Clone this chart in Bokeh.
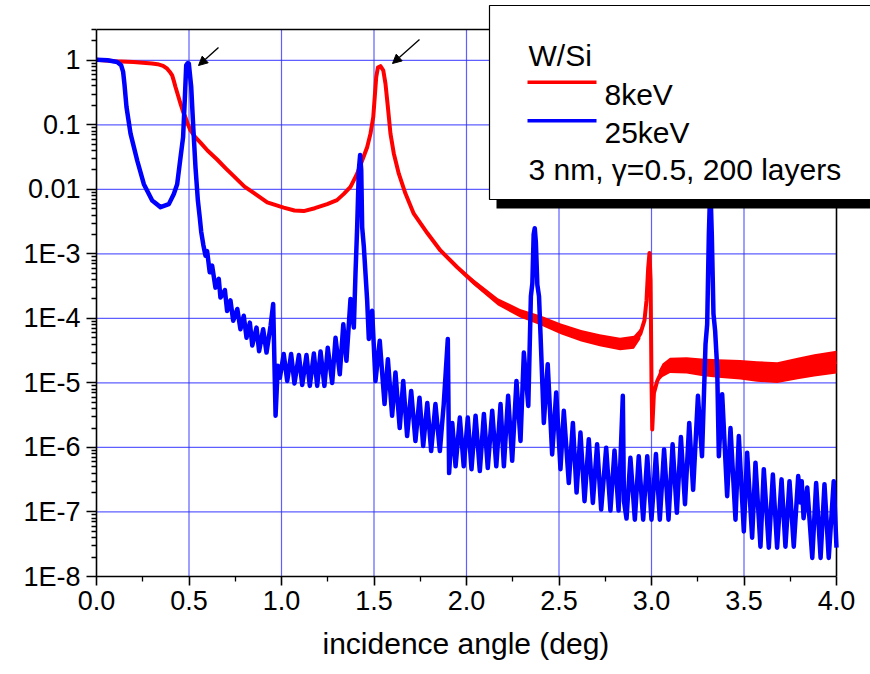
import numpy as np
from bokeh.plotting import figure
from bokeh.models import Range1d, FixedTicker, Arrow, NormalHead, Title
from bokeh.core.properties import value
from bokeh.embed import file_html
from bokeh.resources import INLINE

# ---------------- data ----------------
red_x = [0.0, 0.1, 0.2, 0.3, 0.33, 0.36, 0.382, 0.40, 0.409, 0.418, 0.427, 0.44, 0.454, 0.468,
         0.481, 0.495, 0.508, 0.535, 0.562, 0.6, 0.652, 0.7, 0.742, 0.8, 0.85, 0.923, 1.012,
         1.07, 1.12, 1.18, 1.247, 1.30, 1.337, 1.373, 1.409, 1.436, 1.463, 1.481, 1.496, 1.504,
         1.512, 1.521, 1.535, 1.55, 1.562, 1.575, 1.589, 1.607, 1.634, 1.670, 1.715, 1.788,
         1.859, 1.95, 2.04, 2.17, 2.29, 2.40, 2.51, 2.62, 2.72, 2.83, 2.905, 2.94, 2.962, 2.973,
         2.982, 2.989, 2.995, 3.0, 3.004, 3.013, 3.031, 3.058, 3.10, 3.19, 3.27, 3.36, 3.48,
         3.57, 3.68, 3.79, 3.88, 4.0]
red_y = [1.02, 0.97, 0.94, 0.89, 0.87, 0.82, 0.74, 0.64, 0.585, 0.48, 0.385, 0.29, 0.213, 0.16,
         0.13, 0.10, 0.082, 0.064, 0.053, 0.040, 0.029, 0.021, 0.016, 0.011, 0.0088, 0.0063, 0.0052,
         0.0047, 0.0046, 0.0051, 0.0059, 0.0068, 0.0085, 0.0109, 0.0175, 0.028, 0.045, 0.073, 0.132,
         0.27, 0.55, 0.77, 0.81, 0.70, 0.435, 0.189, 0.073, 0.036, 0.0175, 0.0086, 0.0042, 0.0021,
         0.00113, 6.2e-4, 3.6e-4, 1.8e-4, 1.2e-4, 9.3e-5, 6.9e-5, 5.4e-5, 4.6e-5, 4.0e-5, 4.3e-5,
         5.8e-5, 9.3e-5, 1.9e-4, 6.0e-4, 1.03e-3, 3.9e-4, 1.07e-5, 1.9e-6, 6.9e-6, 1.07e-5,
         1.57e-5, 1.87e-5, 1.87e-5, 1.75e-5, 1.67e-5, 1.6e-5, 1.5e-5, 1.45e-5, 1.67e-5, 1.87e-5,
         2.1e-5]

# envelope of the unresolved fast fringes of the 8 keV curve
band1_x = [1.95, 2.04, 2.17, 2.29, 2.40, 2.51, 2.62, 2.72, 2.83, 2.905, 2.94]
band1_hi = [6.6e-4, 4.0e-4, 2.05e-4, 1.4e-4, 1.11e-4, 8.3e-5, 6.6e-5, 5.7e-5, 5.0e-5, 5.4e-5, 7.0e-5]
band1_lo = [5.8e-4, 3.25e-4, 1.58e-4, 1.03e-4, 7.8e-5, 5.7e-5, 4.4e-5, 3.7e-5, 3.2e-5, 3.4e-5, 4.8e-5]
band2_x = [3.04, 3.06, 3.10, 3.19, 3.27, 3.36, 3.48, 3.57, 3.68, 3.79, 3.88, 4.0]
band2_hi = [1.56e-5, 2.0e-5, 2.45e-5, 2.5e-5, 2.4e-5, 2.32e-5, 2.27e-5, 2.16e-5, 2.1e-5, 2.45e-5,
            2.79e-5, 3.15e-5]
band2_lo = [1.08e-5, 1.23e-5, 1.43e-5, 1.4e-5, 1.28e-5, 1.2e-5, 1.13e-5, 1.04e-5, 1.0e-5, 1.14e-5,
            1.26e-5, 1.4e-5]

blue_x = [0.0, 0.06, 0.112, 0.133, 0.144, 0.151, 0.162, 0.184, 0.22, 0.256, 0.301, 0.346, 0.391,
          0.418, 0.436, 0.454, 0.468, 0.477, 0.485, 0.492, 0.499, 0.512, 0.523, 0.535, 0.548,
          0.558, 0.566, 0.577, 0.589, 0.598, 0.612, 0.625, 0.643, 0.661, 0.670, 0.694, 0.706,
          0.724, 0.739, 0.761, 0.778, 0.796, 0.811, 0.829, 0.842, 0.865, 0.879, 0.901, 0.919,
          0.941, 0.955, 0.968, 0.980, 0.991, 1.012, 1.031, 1.052, 1.070, 1.094, 1.112, 1.135,
          1.153, 1.175, 1.193, 1.211, 1.232, 1.250, 1.274, 1.292, 1.315, 1.334, 1.351, 1.373,
          1.391, 1.400, 1.409, 1.418, 1.425, 1.431, 1.436, 1.445, 1.463, 1.472, 1.490, 1.508,
          1.531, 1.557, 1.575, 1.598, 1.616, 1.639, 1.658, 1.679, 1.701, 1.724, 1.746, 1.766,
          1.788, 1.809, 1.832, 1.856, 1.877, 1.899, 1.906, 1.923, 1.941, 1.964, 1.985, 2.007,
          2.027, 2.049, 2.072, 2.094, 2.115, 2.139, 2.161, 2.184, 2.202, 2.225, 2.247, 2.270,
          2.292, 2.310, 2.334, 2.348, 2.356, 2.363, 2.369, 2.375, 2.383, 2.392, 2.400, 2.418,
          2.439, 2.463, 2.485, 2.508, 2.526, 2.553, 2.575, 2.595, 2.616, 2.638, 2.661, 2.683,
          2.706, 2.728, 2.755, 2.778, 2.800, 2.822, 2.845, 2.851, 2.865, 2.886, 2.910, 2.931,
          2.955, 2.977, 3.000, 3.024, 3.045, 3.068, 3.092, 3.114, 3.137, 3.159, 3.181, 3.204,
          3.225, 3.251, 3.273, 3.292, 3.301, 3.310, 3.318, 3.326, 3.335, 3.344, 3.355, 3.364,
          3.382, 3.409, 3.427, 3.454, 3.472, 3.499, 3.517, 3.544, 3.562, 3.589, 3.607, 3.634,
          3.656, 3.679, 3.703, 3.724, 3.746, 3.769, 3.793, 3.805, 3.812, 3.822, 3.842, 3.869,
          3.890, 3.914, 3.935, 3.958, 3.985, 4.0]
blue_y = [1.02, 1.0, 0.94, 0.84, 0.66, 0.43, 0.19, 0.073, 0.028, 0.012, 0.0067, 0.0053, 0.0059,
          0.0085, 0.012, 0.031, 0.064, 0.24, 0.84, 0.90, 0.89, 0.385, 0.092, 0.022, 0.0067,
          0.0037, 0.0022, 0.0014, 0.00094, 0.0011, 0.00052, 0.00066, 0.00030, 0.00041, 0.00021,
          0.000275, 0.00013, 0.00019, 9.2e-5, 1.4e-4, 6.8e-5, 1.1e-4, 5.0e-5, 8.6e-5, 3.8e-5,
          7.2e-5, 3.1e-5, 6.8e-5, 2.95e-5, 7.7e-5, 1.67e-4, 3.1e-6, 1.84e-5, 1.2e-5, 2.8e-5,
          1.07e-5, 2.8e-5, 9.8e-6, 2.7e-5, 9.3e-6, 2.7e-5, 9.0e-6, 2.85e-5, 9.0e-6, 3.06e-5,
          9.0e-6, 3.5e-5, 1.0e-5, 5.0e-5, 1.36e-5, 8.1e-5, 2.2e-5, 2.0e-4, 7.2e-5, 5.0e-4,
          2.6e-3, 0.02, 0.034, 0.02, 2.6e-3, 1.3e-3, 1.9e-4, 4.8e-5, 1.31e-4, 1.07e-5, 4.5e-5,
          4.7e-6, 2.33e-5, 3.1e-6, 1.45e-5, 2.0e-6, 1.07e-5, 1.5e-6, 7.5e-6, 1.26e-6, 5.9e-6,
          1.05e-6, 4.9e-6, 8.8e-7, 4.7e-6, 8.8e-7, 4.7e-6, 4.8e-5, 4.0e-7, 2.4e-6, 5.1e-7,
          2.9e-6, 5.1e-7, 2.9e-6, 4.6e-7, 3.1e-6, 4.3e-7, 3.3e-6, 4.8e-7, 3.7e-6, 5.1e-7,
          4.7e-6, 5.1e-7, 6.3e-6, 6.2e-7, 1.07e-5, 1.26e-6, 2.95e-5, 4.4e-6, 2.2e-4, 3.5e-4,
          2.0e-3, 2.5e-3, 1.5e-3, 3.3e-4, 2.2e-4, 5.7e-5, 2.4e-6, 1.95e-5, 7.8e-7, 7.1e-6,
          4.6e-7, 3.7e-6, 2.8e-7, 2.4e-6, 2.0e-7, 1.7e-6, 1.47e-7, 1.34e-6, 1.38e-7, 1.12e-6,
          1.09e-7, 9.9e-7, 1.05e-7, 9.0e-7, 1.05e-7, 6.3e-6, 1.47e-7, 7.9e-8, 6.9e-7, 7.6e-8,
          7.3e-7, 7.6e-8, 7.3e-7, 7.6e-8, 7.9e-7, 7.6e-8, 9.3e-7, 7.6e-8, 1.12e-6, 9.7e-8,
          1.45e-6, 1.32e-7, 2.4e-6, 2.2e-7, 6.3e-6, 7.3e-7, 4.0e-5, 8.1e-5, 2.0e-3, 0.012,
          2.0e-3, 1.17e-4, 6.4e-5, 1.73e-5, 7.3e-7, 6.7e-6, 1.76e-7, 2.0e-6, 7.6e-8, 1.5e-6,
          5.0e-8, 8.3e-7, 4.0e-8, 5.8e-7, 2.9e-8, 4.6e-7, 2.8e-8, 3.8e-7, 2.8e-8, 3.2e-7,
          2.9e-8, 3.0e-7, 2.9e-8, 3.6e-7, 1.4e-7, 3.0e-7, 8.0e-8, 2.4e-7, 1.94e-8, 2.8e-7,
          1.94e-8, 2.7e-7, 1.94e-8, 3.0e-7, 2.8e-8]

X_TICKS = [0.0, 0.5, 1.0, 1.5, 2.0, 2.5, 3.0, 3.5, 4.0]
X_LABELS = ["0.0", "0.5", "1.0", "1.5", "2.0", "2.5", "3.0", "3.5", "4.0"]
X_MINOR = [0.25, 0.75, 1.25, 1.75, 2.25, 2.75, 3.25, 3.75]
Y_TICKS = [1e-8, 1e-7, 1e-6, 1e-5, 1e-4, 1e-3, 1e-2, 1e-1, 1.0]
Y_LABELS = ["1E-8", "1E-7", "1E-6", "1E-5", "1E-4", "1E-3", "0.01", "0.1", "1"]
SERIES_NAMES = ["8keV", "25keV"]
SERIES_COLORS = ["#ff0000", "#0000ff"]
LEGEND_TITLE = "W/Si"
NOTE = "3 nm, \u03b3=0.5, 200 layers"
X_LABEL = "incidence angle (deg)"

# ---------------- layout ----------------
FONT = "Liberation Sans"
W, H = 870, 674
ML = 96                 # frame left edge (px)
FRAME_BOTTOM = 576      # frame bottom edge (px from top)
MB = H - FRAME_BOTTOM
X_MIN, X_MAX = 0.0, 4.0
Y_MIN, Y_MAX = 1e-8, 3.0
AXIS_W_PX, AXIS_H_PX = 740, 547
frame_w, frame_h = W - ML, FRAME_BOTTOM
px_per_x = AXIS_W_PX / (X_MAX - X_MIN)
px_per_dec = AXIS_H_PX / (np.log10(Y_MAX) - np.log10(Y_MIN))
x_end = X_MIN + frame_w / px_per_x
y_end = 10 ** (np.log10(Y_MIN) + frame_h / px_per_dec)


def dx(px):
    return X_MIN + (px - ML) / px_per_x


def dy(py):
    return 10 ** (np.log10(Y_MIN) + (FRAME_BOTTOM - py) / px_per_dec)


p = figure(width=W, height=H, x_range=Range1d(X_MIN, x_end), y_range=Range1d(Y_MIN, y_end),
           y_axis_type="log", output_backend="svg", toolbar_location=None,
           min_border_left=ML, min_border_right=0, min_border_top=0, min_border_bottom=MB)
p.outline_line_color = None
p.grid.visible = False
p.background_fill_color = "white"
p.border_fill_color = "white"

# axes
for ax in (p.xaxis[0], p.yaxis[0]):
    ax.axis_line_width = 1.6
    ax.axis_line_color = "black"
    ax.major_tick_line_width = 1.6
    ax.minor_tick_line_width = 1.3
    ax.major_tick_in = 0
    ax.minor_tick_in = 0
    ax.minor_tick_out = 5
    ax.major_label_text_font = FONT
    ax.major_label_text_font_size = "27px"
    ax.major_label_text_color = "black"

p.xaxis.ticker = FixedTicker(ticks=X_TICKS, minor_ticks=X_MINOR)
p.xaxis.major_label_overrides = {t: l for t, l in zip(X_TICKS, X_LABELS)}
p.xaxis.bounds = (X_MIN, X_MAX)
p.xaxis.major_tick_out = 9
p.xaxis.major_label_standoff = 5

y_minor = [m * t for t in Y_TICKS[:-1] for m in range(2, 10)] + [2.0, 3.0]
p.yaxis.ticker = FixedTicker(ticks=Y_TICKS, minor_ticks=y_minor)
p.yaxis.major_label_overrides = {t: l for t, l in zip(Y_TICKS, Y_LABELS)}
p.yaxis.bounds = (Y_MIN, Y_MAX)
p.yaxis.major_tick_out = 10
p.yaxis.major_label_standoff = 6

# x axis title, placed under the axis (which spans 0..4, not the full frame)
p.add_layout(Title(text=X_LABEL, align="left", offset=322 - ML, text_font=FONT,
                   text_font_size="30px", text_font_style="normal", text_color="black",
                   standoff=24), "below")

# grid
gx = X_TICKS[1:-1]
p.segment(x0=gx, y0=[Y_MIN] * len(gx), x1=gx, y1=[Y_MAX] * len(gx),
          line_color="#2a2aff", line_alpha=0.75, line_width=1.2)
gy = Y_TICKS[1:]
p.segment(x0=[X_MIN] * len(gy), y0=gy, x1=[X_MAX] * len(gy), y1=gy,
          line_color="#2a2aff", line_alpha=0.75, line_width=1.2)

# frame top/right
p.line([X_MIN, X_MAX, X_MAX], [Y_MAX, Y_MAX, Y_MIN], line_color="black", line_width=1.6)

# curves
p.varea(x=band1_x, y1=band1_lo, y2=band1_hi, fill_color=SERIES_COLORS[0])
p.varea(x=band2_x, y1=band2_lo, y2=band2_hi, fill_color=SERIES_COLORS[0])
p.line(red_x, red_y, line_color=SERIES_COLORS[0], line_width=4, line_join="round")
p.line(blue_x, blue_y, line_color=SERIES_COLORS[1], line_width=4.5, line_join="round")

# arrows marking the Bragg peaks
for (x0, y0, x1, y1) in [(218, 47, 198, 65), (419, 39, 392, 63)]:
    p.add_layout(Arrow(end=NormalHead(size=9, fill_color="black", line_color="black"),
                       x_start=dx(x0), y_start=dy(y0), x_end=dx(x1), y_end=dy(y1),
                       line_color="black", line_width=1.4))

# legend box (runs off the right edge) with its shadow
p.quad(left=[dx(496)], right=[x_end], top=[dy(199)], bottom=[dy(208)],
       fill_color="black", line_color=None)
p.quad(left=[dx(489)], right=[x_end], top=[dy(5)], bottom=[dy(199)],
       fill_color="white", line_color=None)
p.line([x_end, dx(489), dx(489), x_end], [dy(5), dy(5), dy(199), dy(199)],
       line_color="black", line_width=1.2)
p.text(x=[dx(528)], y=[dy(55)], text=[LEGEND_TITLE], text_font=value(FONT),
       text_font_size="30px", text_baseline="alphabetic", text_align="left", text_color="black")
for i, (name, col) in enumerate(zip(SERIES_NAMES, SERIES_COLORS)):
    ly = 81.7 + 38.5 * i
    p.segment(x0=[dx(527)], y0=[dy(ly)], x1=[dx(596)], y1=[dy(ly)], line_color=col, line_width=3.5)
    p.text(x=[dx(604)], y=[dy(94.3 + 37.5 * i)], text=[name], text_font=value(FONT),
           text_font_size="30px", text_baseline="alphabetic", text_align="left",
           text_color="black")
p.text(x=[dx(528)], y=[dy(168.5)], text=[NOTE], text_font=value(FONT),
       text_font_size="30px", text_baseline="alphabetic", text_align="left", text_color="black")

open("out.html", "w").write(file_html(p, INLINE))
